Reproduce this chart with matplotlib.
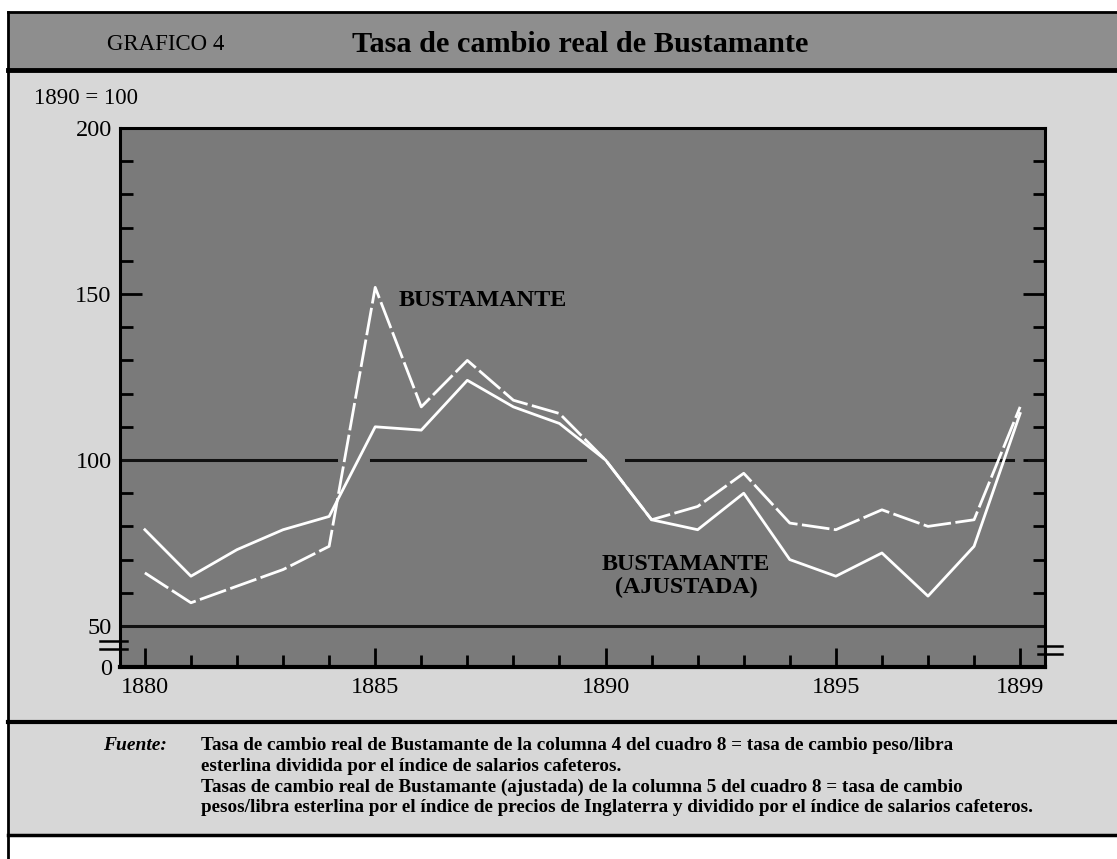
import matplotlib.pyplot as plt
from matplotlib.lines import Line2D
from matplotlib.patches import Rectangle
import numpy as np

plt.rcParams['font.family'] = ['Liberation Serif', 'DejaVu Serif']

# datos (1890 = 100)
years = np.arange(1880, 1900)
bustamante = [66, 57, 62, 67, 74, 152, 116, 130, 118, 114,
              100, 82, 86, 96, 81, 79, 85, 80, 82, 116]
ajustada = [79, 65, 73, 79, 83, 110, 109, 124, 116, 111,
            100, 82, 79, 90, 70, 65, 72, 59, 74, 114]
x_labels = [1880, 1885, 1890, 1895, 1899]
y_labels = ['0', '50', '100', '150', '200']

W, H = 1117, 859
fig = plt.figure(figsize=(W / 100, H / 100), dpi=100)
fig.patch.set_facecolor('white')


def fx(px):
    return px / W


def fy(py):
    return 1 - py / H


# pagina escaneada
fig.patches.append(Rectangle((fx(8), fy(835)), 1 - fx(8), fy(12) - fy(835),
                             transform=fig.transFigure, color='#d7d7d7', zorder=-2))
fig.patches.append(Rectangle((fx(8), fy(70)), 1 - fx(8), fy(12) - fy(70),
                             transform=fig.transFigure, color='#8e8e8e', zorder=-1))
for py, lw in [(12, 2), (70, 3.5), (722, 3), (835, 2.5)]:
    fig.lines.append(Line2D([fx(8), 1], [fy(py), fy(py)], transform=fig.transFigure,
                            color='black', lw=lw))
fig.lines.append(Line2D([fx(8), fx(8)], [0, fy(12)], transform=fig.transFigure,
                        color='black', lw=2))

fig.text(fx(107), fy(44), 'GRAFICO 4', fontsize=16.5, va='center')
fig.text(fx(352), fy(44), 'Tasa de cambio real de Bustamante', fontsize=21.8,
         fontweight='bold', va='center')
fig.text(fx(34), fy(98), '1890 = 100', fontsize=16.5, va='center')

ax = fig.add_axes([fx(120), fy(667), fx(1045) - fx(120), fy(128) - fy(667)])
ax.set_facecolor('#7a7a7a')
ybot = 50 - 41 / 3.32
ax.set_xlim(1879.46, 1899.54)
ax.set_ylim(ybot, 200)

# lineas de referencia 100 y 50 (la de 100 se corta donde pasan las series)
for x0, x1 in [(1879.46, 1884.15), (1884.9, 1889.55), (1890.45, 1898.85), (1899.2, 1899.54)]:
    ax.plot([x0, x1], [100, 100], color='#111111', lw=2.2, zorder=2)
ax.axhline(50, color='#111111', lw=2.2, zorder=2)

ax.plot(years, bustamante, color='white', lw=2, dashes=(10, 1.6), zorder=3)
ax.plot(years, ajustada, color='white', lw=2, zorder=3)

ax.text(1885.5, 148, 'BUSTAMANTE', fontsize=17.4, fontweight='bold', va='center')
ax.text(1891.75, 65, 'BUSTAMANTE\n(AJUSTADA)', fontsize=17.4, fontweight='bold',
        ha='center', va='center', linespacing=1.15)

ax.set_xticks(x_labels)
ax.set_xticklabels([str(v) for v in x_labels], fontsize=17.5)
ax.set_xticks(years, minor=True)
ax.set_yticks([ybot, 50, 100, 150, 200])
ax.set_yticklabels(y_labels, fontsize=17.5)
ax.set_yticks(np.arange(60, 200, 10), minor=True)
ax.tick_params(axis='x', which='major', direction='in', length=14, width=2, pad=7)
ax.tick_params(axis='x', which='minor', direction='in', length=9, width=2)
ax.tick_params(axis='y', which='both', direction='in', left=True, right=True, width=2)
ax.tick_params(axis='y', which='major', length=16, pad=6)
ax.tick_params(axis='y', which='minor', length=9)
for s in ax.spines.values():
    s.set_linewidth(2.2)
ax.spines['bottom'].set_linewidth(3)

# marcas de corte del eje
yt = ax.get_yaxis_transform()
for yv in [45.5, 43.0]:
    ax.plot([-0.022, 0.008], [yv, yv], transform=yt, color='black', lw=1.8, clip_on=False)
    ax.plot([0.992, 1.018], [yv - 1.5, yv - 1.5], transform=yt, color='black', lw=1.8, clip_on=False)

# fuente
fig.text(fx(103), fy(746), 'Fuente:', fontsize=14, style='italic', fontweight='bold', va='center')
notas = [
    'Tasa de cambio real de Bustamante de la columna 4 del cuadro 8 = tasa de cambio peso/libra',
    'esterlina dividida por el índice de salarios cafeteros.',
    'Tasas de cambio real de Bustamante (ajustada) de la columna 5 del cuadro 8 = tasa de cambio',
    'pesos/libra esterlina por el índice de precios de Inglaterra y dividido por el índice de salarios cafeteros.',
]
for i, t in enumerate(notas):
    fig.text(fx(201), fy(746 + i * 20.5), t, fontsize=13.8, fontweight='bold', va='center')

fig.savefig('out.png', dpi=100)
